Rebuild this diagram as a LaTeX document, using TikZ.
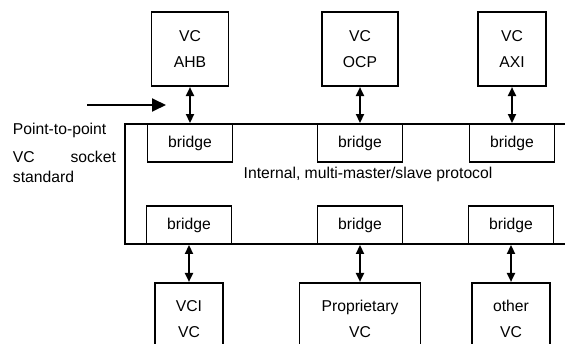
\documentclass[tikz,border=0pt]{standalone}
\usepackage{fontspec}
\setmainfont{Liberation Sans}
\usetikzlibrary{positioning,arrows.meta}

\begin{document}
\begin{tikzpicture}[x=1pt, y=1pt, line width=1.9pt, font=\fontsize{15.7}{18}\selectfont,
    vc/.style = {draw, align=center, minimum height=74pt},
    core/.style = {draw, align=center, minimum height=72pt},
    brg/.style = {draw, minimum width=85pt, minimum height=38pt},
    link/.style = {{Triangle[length=9pt,width=8pt]}-{Triangle[length=9pt,width=8pt]}},
    lbl/.style = {inner sep=0pt, anchor=base west}]
    \useasboundingbox (0,0) rectangle (565,343);
    \clip (0,0) rectangle (565,343);

    % bus
    \draw (566,219) -| (125,99) -- (566,99);

    \node[brg] (b1) at (190,200) {bridge};
    \node[brg] (b2) at (360,200) {bridge};
    \node[brg] (b3) at (512,200) {bridge};

    \node[brg] (b4) at (189,118) {bridge};
    \node[brg] (b5) at (360,118) {bridge};
    \node[brg] (b6) at (511,118) {bridge};

    \node[vc, minimum width=77pt] (ahb) [above=36pt of b1] {VC\\[8pt]AHB};
    \node[vc, minimum width=76pt] (ocp) [above=36pt of b2] {VC\\[8pt]OCP};
    \node[vc, minimum width=68pt] (axi) [above=36pt of b3] {VC\\[8pt]AXI};

    \node[core, minimum width=68pt] (vci) [below=37pt of b4] {VCI\\[8pt]VC};
    \node[core, minimum width=121pt] (prop) [below=37pt of b5] {Proprietary\\[8pt]VC};
    \node[core, minimum width=78pt] (other) [below=37pt of b6] {other\\[8pt]VC};

    \draw[link] (ahb) -- (b1);
    \draw[link] (ocp) -- (b2);
    \draw[link] (axi) -- (b3);
    \draw[link] (b4) -- (vci);
    \draw[link] (b5) -- (prop);
    \draw[link] (b6) -- (other);

    \node (bus) at (368,169) {Internal, multi-master/slave protocol};

    % socket note
    \coordinate (src) at (87,238);
    \coordinate (dst) at (166,238);
    \draw[-{Triangle[length=14pt,width=13pt]}] (src) -- (dst);
    \node[lbl] (ptp) at (12,208) {Point-to-point};
    \node[lbl, text width=103pt] (vcs) at (12,180) {VC\hfill socket};
    \node[lbl] (std) at (12,160) {standard};

\end{tikzpicture}
\end{document}
